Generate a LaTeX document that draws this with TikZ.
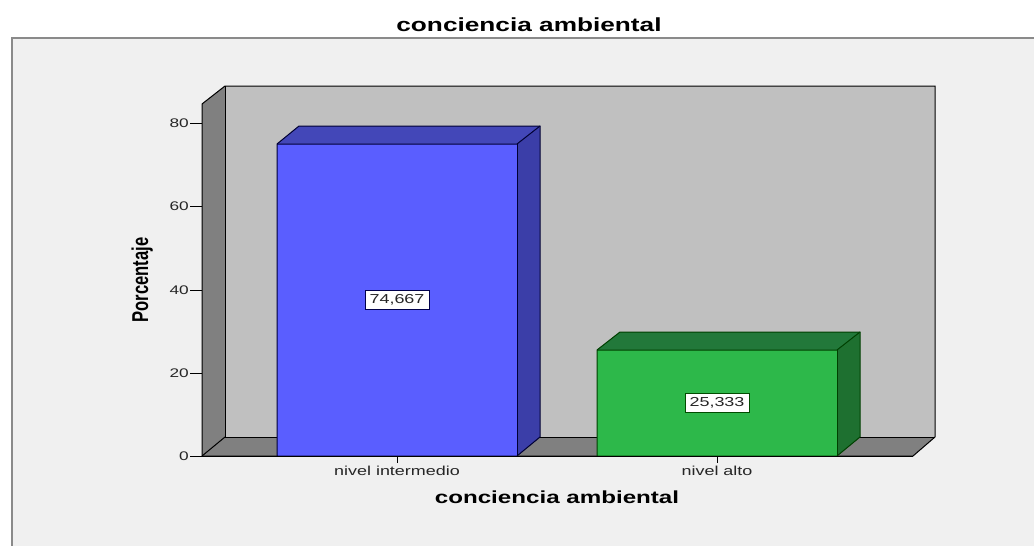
\documentclass[tikz,border=0pt]{standalone}
\usepackage{fontspec}
\usepackage{graphicx}
\newfontfamily\wsans[FakeStretch=1.38]{Liberation Sans}
\newfontfamily\nsans{Liberation Sans}
\definecolor{outerbg}{HTML}{F0F0F0}
\definecolor{framegray}{HTML}{8A8A8A}
\definecolor{wallback}{HTML}{C0C0C0}
\definecolor{wallside}{HTML}{808080}
\definecolor{bluefront}{HTML}{5A5EFF}
\definecolor{blueside}{HTML}{3B3EA8}
\definecolor{bluetop}{HTML}{4347B8}
\definecolor{greenfront}{HTML}{2DB84A}
\definecolor{greenside}{HTML}{1E7030}
\definecolor{greentop}{HTML}{22783A}
\tikzset{
  x=1pt, y=-1pt,
  edge/.style={draw=black, line width=1pt, line join=miter},
  barblue/.style={draw=black!80!blue, line width=1pt, line join=miter},
  bargreen/.style={draw=black!75!green, line width=1pt, line join=miter},
  ticklab/.style={font=\wsans\fontsize{12.5}{14}\selectfont, text=black!85, inner sep=0pt},
  catlab/.style={font=\wsans\fontsize{13}{15}\selectfont, text=black!85, inner sep=0pt},
  axtitle/.style={font=\wsans\bfseries\fontsize{17.5}{20}\selectfont, inner sep=0pt},
  maintitle/.style={font=\wsans\bfseries\fontsize{19}{22}\selectfont, inner sep=0pt},
  vallab/.style={font=\wsans\fontsize{13}{15}\selectfont, fill=white, line width=0.8pt,
    minimum width=64pt, minimum height=19pt, inner sep=0pt, text=black!85},
}
\begin{document}
\begin{tikzpicture}
\useasboundingbox (0,0) rectangle (1034,546);
\fill[white] (0,0) rectangle (1034,546);
% outer chart area
\fill[outerbg] (12,38) rectangle (1034,546);
\draw[framegray, line width=1.5pt] (12,546) -- (12,38) -- (1034,38);
% walls
\fill[wallback] (225,86) rectangle (935,437);
\fill[wallside] (202,104) -- (225,86) -- (225,437) -- (202,456) -- cycle;
\fill[wallside] (202,456) -- (225,437) -- (935,437) -- (913,456) -- cycle;
\draw[edge] (202,104) -- (225,86) -- (935,86) -- (935,437) -- (913,456) -- (202,456) -- cycle;
\draw[edge] (225,86) -- (225,437) -- (935,437);
\draw[edge] (202,456) -- (225,437);
% y ticks
\foreach \v/\yy in {0/456,20/373,40/290,60/206,80/123}{
  \draw[edge] (190,\yy) -- (202,\yy);
  \node[ticklab, anchor=east] (y\v) at (189,\yy) {\v};
}
% blue bar
\fill[bluetop] (277,144) -- (299,126) -- (540,126) -- (517,144) -- cycle;
\fill[blueside] (517,144) -- (540,126) -- (540,437) -- (517,456) -- cycle;
\fill[bluefront] (277,144) rectangle (517,456);
\draw[barblue] (277,456) -- (277,144) -- (299,126) -- (540,126) -- (540,437) -- (517,456) -- cycle;
\draw[barblue] (277,144) -- (517,144) -- (540,126);
\draw[barblue] (517,144) -- (517,456);
% green bar
\fill[greentop] (597,350) -- (620,332) -- (860,332) -- (837,350) -- cycle;
\fill[greenside] (837,350) -- (860,332) -- (860,437) -- (837,456) -- cycle;
\fill[greenfront] (597,350) rectangle (837,456);
\draw[bargreen] (597,456) -- (597,350) -- (620,332) -- (860,332) -- (860,437) -- (837,456) -- cycle;
\draw[bargreen] (597,350) -- (837,350) -- (860,332);
\draw[bargreen] (837,350) -- (837,456);
% baseline
\draw[edge] (202,456) -- (913,456);
% category ticks
\draw[edge] (397,456) -- (397,463);
\draw[edge] (717,456) -- (717,463);
\node[catlab, anchor=base] (c1) at (397,475) {nivel intermedio};
\node[catlab, anchor=base] (c2) at (717,475) {nivel alto};
% value labels
\node[vallab, draw=black!70!blue] (v1) at (397,299.5) {74,667};
\node[vallab, draw=black!70!green] (v2) at (717,403) {25,333};
% titles
\node[maintitle, anchor=base] (title) at (529,31) {conciencia ambiental};
\node[axtitle, anchor=base] (xtitle) at (557,503) {conciencia ambiental};
\node[inner sep=0pt, rotate=90, anchor=base] (ytitle) at (148,280)
  {\scalebox{1}[1.38]{\nsans\bfseries\fontsize{16.6}{19}\selectfont Porcentaje}};
\end{tikzpicture}
\end{document}
